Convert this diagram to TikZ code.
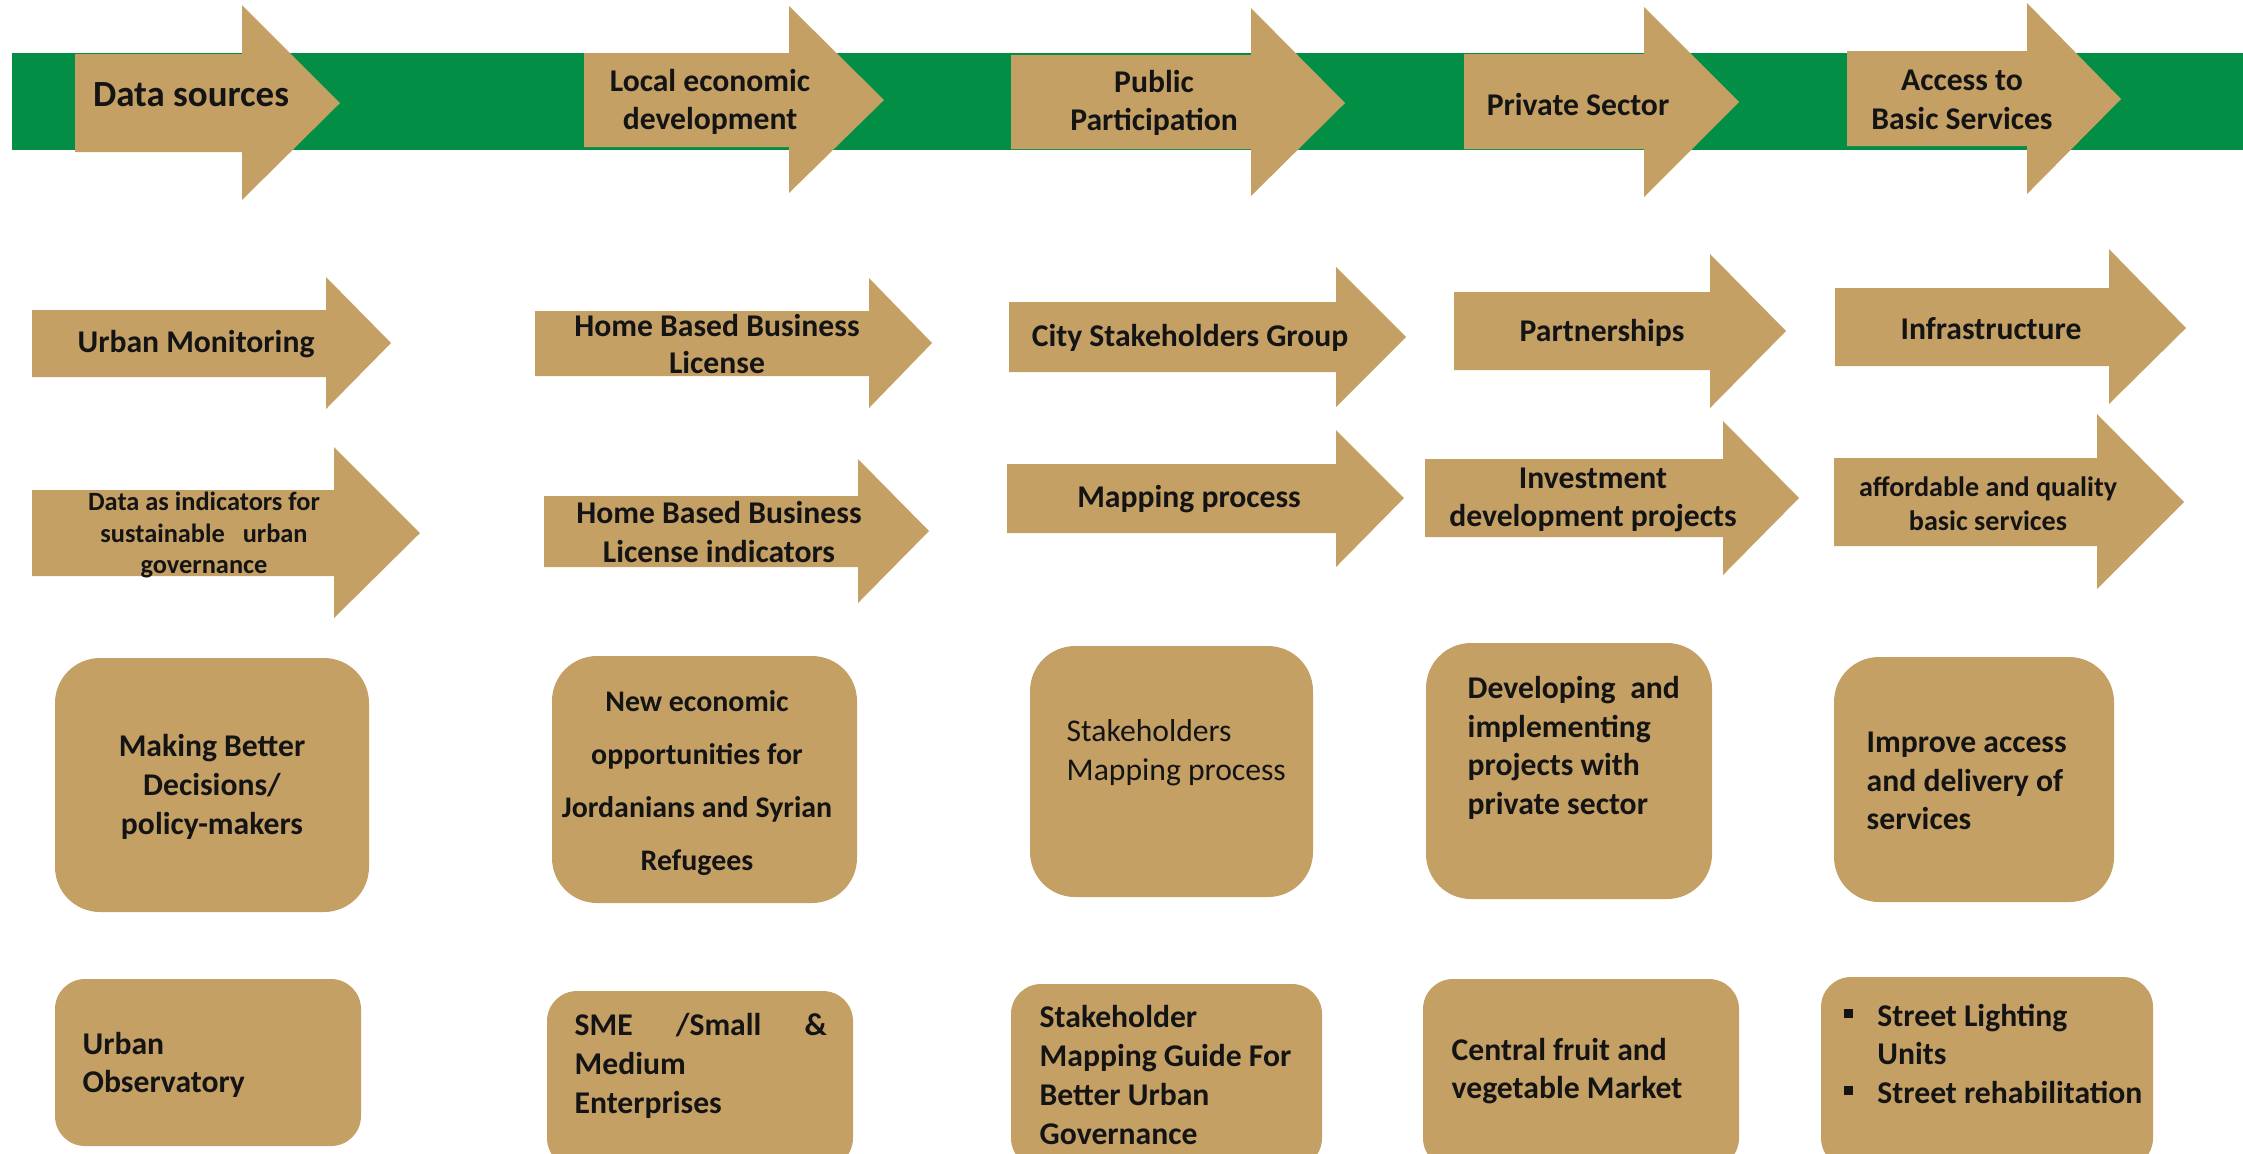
\documentclass[tikz,border=0pt]{standalone}
\usepackage{fontspec}
\setmainfont{Carlito}
\usepackage{xcolor}
\definecolor{tan}{HTML}{C4A065}
\definecolor{band}{HTML}{038E46}

\begin{document}
\begin{tikzpicture}[x=0.01cm,y=-0.01cm,
    shape fill/.style={fill=tan},
    big box/.style={fill=tan,rounded corners=4.5mm},
    small box/.style={fill=tan,rounded corners=3mm},
    lbl/.style={font={\fontsize{9}{11}\selectfont\bfseries},align=center,inner sep=0pt,text=black!92},
    lbl left/.style={lbl,align=left,anchor=west}]

    \useasboundingbox (0,0) rectangle (2243,1153);
    \clip (0,0) rectangle (2243,1153);

    % green band
    \fill[band] (12,53) rectangle (2243,150);

    % top arrows
    \fill[shape fill] (75,54) -- (242,54) -- (242,5) -- (340,103) -- (242,200) -- (242,152) -- (75,152) -- cycle;
    \fill[shape fill] (584,53) -- (789,53) -- (789,6) -- (884,100) -- (789,193) -- (789,147) -- (584,147) -- cycle;
    \fill[shape fill] (1011,55) -- (1251,55) -- (1251,8) -- (1345,103) -- (1251,196) -- (1251,149) -- (1011,149) -- cycle;
    \fill[shape fill] (1464,54) -- (1644,54) -- (1644,7) -- (1739,102) -- (1644,197) -- (1644,149) -- (1464,149) -- cycle;
    \fill[shape fill] (1847,51) -- (2027,51) -- (2027,3) -- (2121,99) -- (2027,194) -- (2027,146) -- (1847,146) -- cycle;

    % second row
    \fill[shape fill] (32,310) -- (326,310) -- (326,277) -- (391,343) -- (326,409) -- (326,377) -- (32,377) -- cycle;
    \fill[shape fill] (535,311) -- (869,311) -- (869,278) -- (932,343) -- (869,408) -- (869,376) -- (535,376) -- cycle;
    \fill[shape fill] (1009,302) -- (1336,302) -- (1336,267) -- (1406,337) -- (1336,407) -- (1336,372) -- (1009,372) -- cycle;
    \fill[shape fill] (1454,292) -- (1710,292) -- (1710,254) -- (1786,331) -- (1710,408) -- (1710,370) -- (1454,370) -- cycle;
    \fill[shape fill] (1835,288) -- (2109,288) -- (2109,249) -- (2186,328) -- (2109,404) -- (2109,366) -- (1835,366) -- cycle;

    % third row
    \fill[shape fill] (32,490) -- (334,490) -- (334,447) -- (420,533) -- (334,618) -- (334,576) -- (32,576) -- cycle;
    \fill[shape fill] (544,496) -- (858,496) -- (858,459) -- (929,531) -- (858,603) -- (858,567) -- (544,567) -- cycle;
    \fill[shape fill] (1007,464) -- (1336,464) -- (1336,430) -- (1404,498) -- (1336,567) -- (1336,533) -- (1007,533) -- cycle;
    \fill[shape fill] (1425,459) -- (1723,459) -- (1723,421) -- (1799,498) -- (1723,575) -- (1723,537) -- (1425,537) -- cycle;
    \fill[shape fill] (1834,458) -- (2097,458) -- (2097,414) -- (2184,502) -- (2097,589) -- (2097,546) -- (1834,546) -- cycle;

    % rounded boxes
    \fill[big box] (55,658) rectangle (369,912);
    \fill[big box] (552,656) rectangle (857,903);
    \fill[big box] (1030,646) rectangle (1313,897);
    \fill[big box] (1426,643) rectangle (1712,899);
    \fill[big box] (1834,657) rectangle (2114,902);

    \fill[small box] (55,979) rectangle (361,1146);
    \fill[small box] (547,991) rectangle (853,1168);
    \fill[small box] (1011,984) rectangle (1322,1168);
    \fill[small box] (1423,979) rectangle (1739,1168);
    \fill[small box] (1821,977) rectangle (2153,1168);

    % labels
    \node[lbl,font={\fontsize{10.5}{12}\selectfont\bfseries}] (ds) at (191,95) {Data sources};
    \node[lbl] (led) at (710,102) {Local economic\\development};
    \node[lbl] (pp) at (1154,103) {Public\\Participation};
    \node[lbl] (ps) at (1578,104) {Private Sector};
    \node[lbl] (abs) at (1962,100) {Access to\\Basic Services};

    \node[lbl] (um) at (196,344) {Urban Monitoring};
    \node[lbl,font={\fontsize{9}{10.5}\selectfont\bfseries}] (hbl) at (717,344) {Home Based Business\\License};
    \node[lbl] (csg) at (1190,338) {City Stakeholders Group};
    \node[lbl] (pa) at (1602,333) {Partnerships};
    \node[lbl] (inf) at (1991,329) {Infrastructure};

    \node[lbl,font={\fontsize{7.5}{9}\selectfont\bfseries}] (dai) at (204,535) {Data as indicators for\\sustainable\ \ \ urban\\governance};
    \node[lbl] (hbi) at (719,532) {Home Based Business\\License indicators};
    \node[lbl] (mp) at (1189,499) {Mapping process};
    \node[lbl] (idp) at (1593,500) {Investment\\development projects};
    \node[lbl,font={\fontsize{8}{9.7}\selectfont\bfseries}] (aq) at (1988,504) {affordable and quality\\basic services};

    \node[lbl] (mbd) at (212,787) {Making Better\\Decisions/\\policy-makers};
    \node[lbl,font={\fontsize{8.5}{15}\selectfont\bfseries}] (neo) at (697,783) {New economic\\opportunities for\\Jordanians and Syrian\\Refugees};
    \node[lbl left,font={\fontsize{9}{11}\selectfont}] (smp) at (1066,753) {Stakeholders\\Mapping process};
    \node[lbl left] (dip) at (1467,748) {\makebox[2.12cm][s]{Developing\hfill and}\\implementing\\projects with\\private sector};
    \node[lbl left] (iad) at (1866,781) {Improve access\\and delivery of\\services};

    \node[lbl left] (uo) at (82,1065) {Urban\\Observatory};
    \node[lbl left] (sme) at (574,1066) {\makebox[2.52cm][s]{SME\hfill/Small\hfill\&}\\Medium\\Enterprises};
    \node[lbl left] (smg) at (1039,1075) {Stakeholder\\Mapping Guide For\\Better Urban\\Governance};
    \node[lbl left] (cfv) at (1451,1071) {Central fruit and\\vegetable Market};
    \node[lbl left] (stl) at (1843,1057) {\begin{tabular}{@{}l@{\hspace{7pt}}l@{}}
        \rule[2.3pt]{2.6pt}{2.6pt} & Street Lighting\\
        & Units\\
        \rule[2.3pt]{2.6pt}{2.6pt} & Street rehabilitation
    \end{tabular}};

\end{tikzpicture}
\end{document}
